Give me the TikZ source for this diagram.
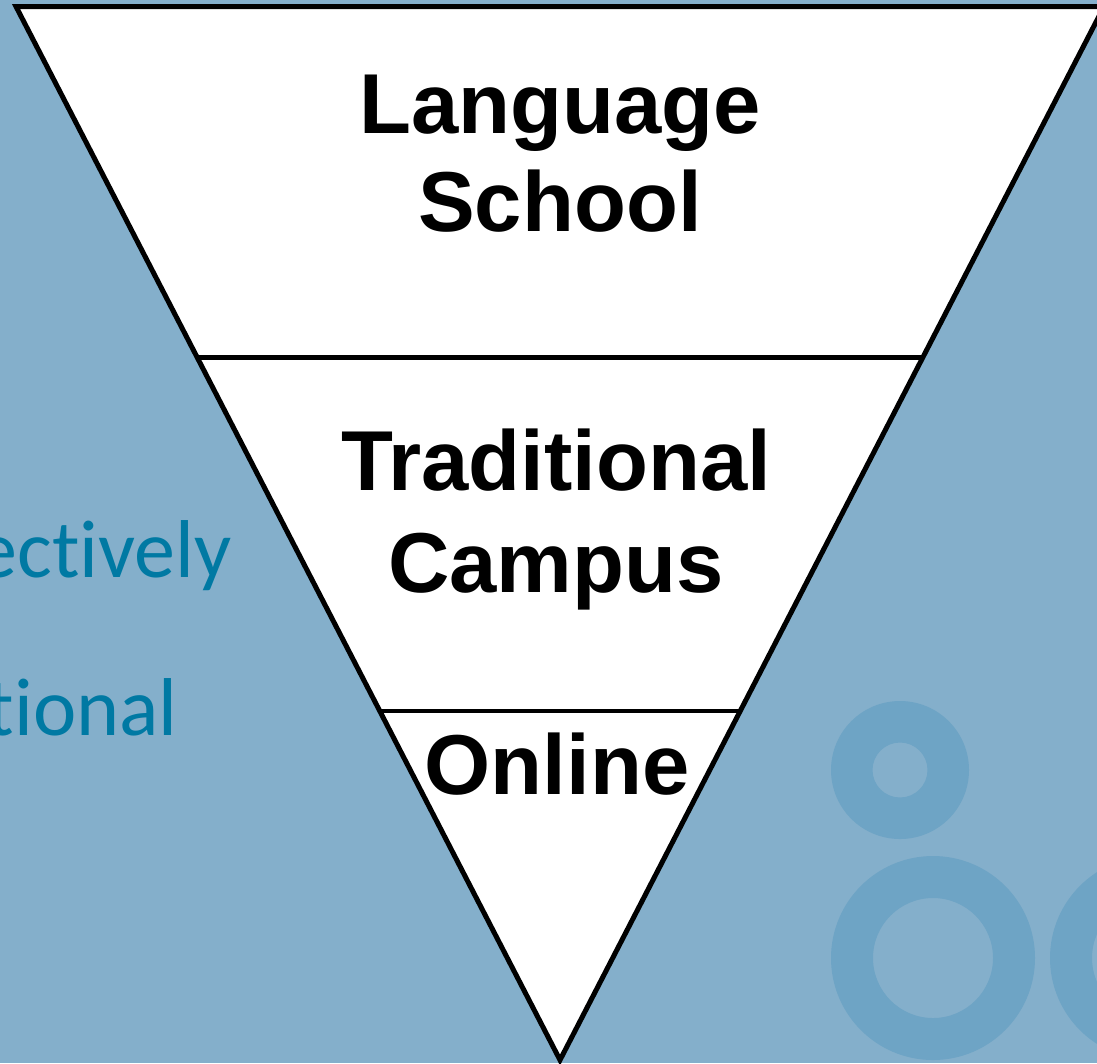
\documentclass[tikz,border=0pt]{standalone}
\usepackage{fontspec}
\setmainfont{Liberation Sans}
\newfontfamily\slidefont[Ligatures=NoCommon]{Carlito}
\usetikzlibrary{calc}
\definecolor{slidebg}{HTML}{84AFCB}
\definecolor{ringblue}{HTML}{6EA4C5}
\definecolor{bodytext}{HTML}{0079A3}

\begin{document}
\begin{tikzpicture}
  [x=0.02cm,y=-0.02cm,
  funnel/.style={draw=black,line width=0.1cm,line join=miter},
  level/.style={font=\bfseries\fontsize{48.4}{55.8}\selectfont,align=center,text=black,inner sep=0pt},
  bodyline/.style={font=\slidefont\fontsize{46.7}{50}\selectfont,text=bodytext,anchor=base east,inner sep=0pt},
  ring/.style={fill=ringblue,even odd rule}]
  \useasboundingbox (0,0) rectangle (1097,1063);
  \clip (0,0) rectangle (1097,1063);
  \fill[slidebg] (0,0) rectangle (1097,1063);

  \fill[ring] (900,770) circle (69) circle (27.5);
  \fill[ring] (933,958) circle (102) circle (60);
  \fill[ring] (1152,958) circle (102) circle (60);

  \node[bodyline] (effective) at (232,577) {ectively};
  \node[bodyline] (national) at (178,735) {tional};

  \coordinate (tl) at (16,6.5);
  \coordinate (tr) at (1104,6.5);
  \coordinate (apex) at (560,1060);
  \coordinate (schooll) at ($(tl)!0.3332!(apex)$);
  \coordinate (schoolr) at ($(tr)!0.3332!(apex)$);
  \coordinate (campusl) at ($(tl)!0.6687!(apex)$);
  \coordinate (campusr) at ($(tr)!0.6687!(apex)$);

  \fill[white] (tl) -- (tr) -- (apex) -- cycle;
  \draw[funnel] (schooll) -- (schoolr);
  \draw[funnel] (campusl) -- (campusr);
  \draw[funnel] (tl) -- (tr) -- (apex) -- cycle;

  \node[level] (language) at (560,154) {Language\\School};
  \node[level,font=\bfseries\fontsize{48.4}{58.6}\selectfont] (traditional) at (556,519.5) {Traditional\\Campus};
  \node[level,anchor=base] (online) at (557,794) {Online};
\end{tikzpicture}
\end{document}
